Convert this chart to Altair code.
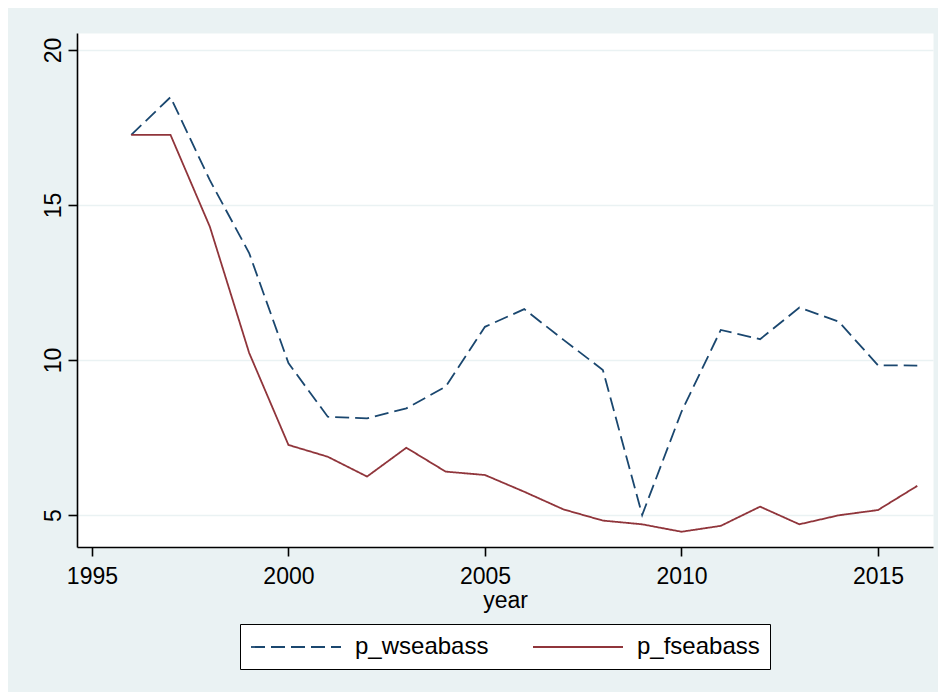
import altair as alt
import pandas as pd

years = list(range(1996, 2017))
p_wseabass = [17.26, 18.48, 15.8, 13.45, 9.9, 8.17, 8.12, 8.44, 9.14, 11.07,
              11.64, 10.65, 9.68, 5.0, 8.33, 10.97, 10.67, 11.69, 11.24, 9.83, 9.82]
p_fseabass = [17.26, 17.26, 14.3, 10.23, 7.26, 6.88, 6.24, 7.17, 6.4, 6.29,
              5.75, 5.18, 4.82, 4.70, 4.46, 4.65, 5.27, 4.70, 4.99, 5.16, 5.94]

series_names = ["p_wseabass", "p_fseabass"]
series_colors = ["#1A476F", "#90353B"]
series_dashes = [[14, 6], [1, 0]]
x_ticks = [1995, 2000, 2005, 2010, 2015]
y_ticks = [5, 10, 15, 20]

rows = []
for name, vals in zip(series_names, [p_wseabass, p_fseabass]):
    for yr, v in zip(years, vals):
        rows.append({"year": yr, "value": v, "series": name})
df = pd.DataFrame(rows)

FONT = "Liberation Sans"

legend_kw = dict(
    title=None,
    orient="none",
    legendX=163,
    legendY=591,
    direction="horizontal",
    symbolType="M-1,0L6.5,0",
    symbolSize=576,
    symbolStrokeWidth=1.8,
    labelFontSize=24,
    labelFont=FONT,
    labelColor="black",
    labelOffset=79,
    columnPadding=40,
    padding=10,
    fillColor="white",
    strokeColor="black",
)

chart = alt.Chart(df).mark_line(strokeWidth=1.8).encode(
    x=alt.X(
        "year:Q",
        scale=alt.Scale(domain=[1994.62, 2016.4], nice=False, zero=False),
        axis=alt.Axis(
            values=x_ticks, format="d", title="year", grid=False,
            labelFontSize=23, labelFont=FONT, labelColor="black",
            labelPadding=9, tickSize=9, tickWidth=1.6, tickColor="black",
            domainColor="black", domainWidth=1.6,
            titleFontSize=23, titleFont=FONT, titleFontWeight="normal",
            titleColor="black", titleBaseline="alphabetic", titleY=60,
        ),
    ),
    y=alt.Y(
        "value:Q",
        scale=alt.Scale(domain=[3.968, 20.548], nice=False, zero=False),
        axis=alt.Axis(
            values=y_ticks, title=None, grid=True, gridColor="#EAF2F3",
            gridWidth=1.5, labelAngle=270, labelAlign="center",
            labelBaseline="bottom", labelFontSize=23, labelFont=FONT,
            labelColor="black", labelPadding=3, tickSize=9, tickWidth=1.6,
            tickColor="black", domainColor="black", domainWidth=1.6,
        ),
    ),
    color=alt.Color(
        "series:N",
        scale=alt.Scale(domain=series_names, range=series_colors),
        legend=alt.Legend(**legend_kw),
    ),
    strokeDash=alt.StrokeDash(
        "series:N",
        scale=alt.Scale(domain=series_names, range=series_dashes),
        legend=alt.Legend(**legend_kw),
    ),
).properties(
    width=856,
    height=514,
    padding={"left": 69, "top": 25, "right": 5, "bottom": 145},
    autosize=alt.AutoSizeParams(type="none"),
    background="#EAF2F3",
).configure_view(
    stroke="transparent",
    fill="white",
)

chart.save("out.html", embed_options={"renderer": "svg", "actions": False})
